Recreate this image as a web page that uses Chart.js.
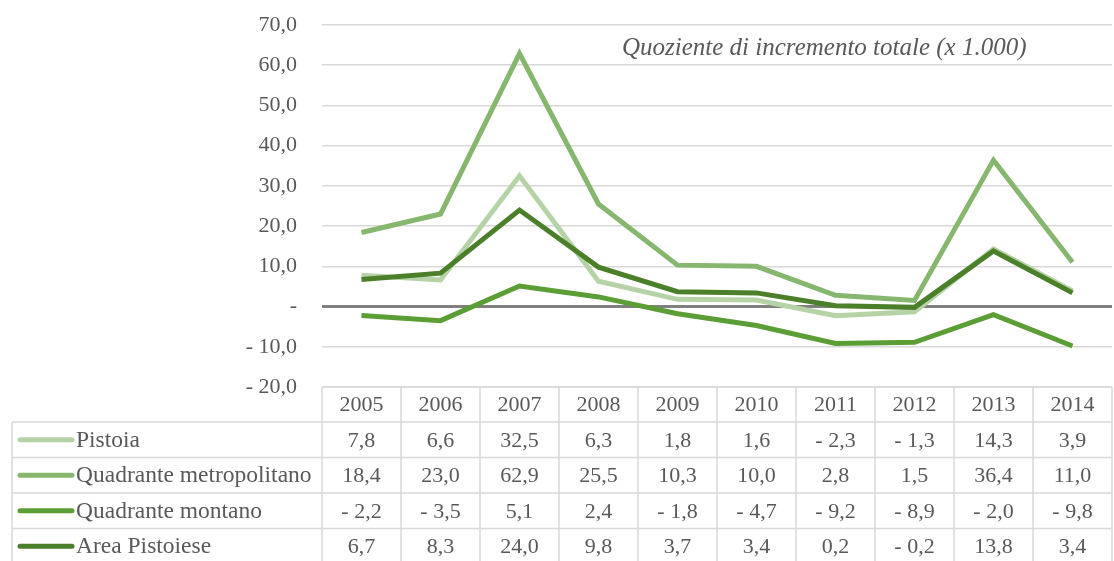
<!DOCTYPE html>
<html>
<head>
<meta charset="utf-8">
<script src="https://cdn.jsdelivr.net/npm/chart.js@4"></script>
<style>
  html, body { margin: 0; padding: 0; background: #fff; }
  canvas { display: block; }
</style>
</head>
<body>
<canvas id="chart" width="1114" height="561"></canvas>
<script>
// --- data ---
const years = ['2005', '2006', '2007', '2008', '2009', '2010', '2011', '2012', '2013', '2014'];
const seriesNames = ['Pistoia', 'Quadrante metropolitano', 'Quadrante montano', 'Area Pistoiese'];
const pistoia = [7.8, 6.6, 32.5, 6.3, 1.8, 1.6, -2.3, -1.3, 14.3, 3.9];
const quadranteMetropolitano = [18.4, 23.0, 62.9, 25.5, 10.3, 10.0, 2.8, 1.5, 36.4, 11.0];
const quadranteMontano = [-2.2, -3.5, 5.1, 2.4, -1.8, -4.7, -9.2, -8.9, -2.0, -9.8];
const areaPistoiese = [6.7, 8.3, 24.0, 9.8, 3.7, 3.4, 0.2, -0.2, 13.8, 3.4];
const yMin = -20, yMax = 70, yStep = 10;
const chartTitle = 'Quoziente di incremento totale (x 1.000)';

const seriesValues = [pistoia, quadranteMetropolitano, quadranteMontano, areaPistoiese];
const colors = ['#b5d3a7', '#87b76f', '#5c9e36', '#4b7f29'];
const textColor = '#595959';
const gridColor = '#d9d9d9';
const FONT = '"Liberation Serif", "DejaVu Serif", serif';

// Excel-style number: 12,3 / - 4,5 / "-" for zero
function fmt(v) {
  if (v === 0) return '-';
  const s = Math.abs(v).toFixed(1).replace('.', ',');
  return v < 0 ? '- ' + s : s;
}

// data table under the plot, with legend keys in the first column
const dataTable = {
  id: 'dataTable',
  afterDraw(chart) {
    const { ctx, chartArea: a, scales: { x } } = chart;
    const colW = (a.right - a.left) / years.length;
    const headerH = 35, rowH = 35.5;
    const tableLeft = 12;
    const top = a.bottom;
    const rowsTop = top + headerH;
    const bottom = rowsTop + rowH * seriesNames.length;

    ctx.save();
    ctx.strokeStyle = gridColor;
    ctx.lineWidth = 1.5;
    ctx.beginPath();
    // header row
    ctx.moveTo(a.left, top); ctx.lineTo(a.right, top);
    for (let i = 0; i <= years.length; i++) {
      const cx = a.left + i * colW;
      ctx.moveTo(cx, top); ctx.lineTo(cx, bottom);
    }
    // series rows
    for (let r = 0; r <= seriesNames.length; r++) {
      const ry = rowsTop + r * rowH;
      ctx.moveTo(tableLeft, ry); ctx.lineTo(a.right, ry);
    }
    ctx.moveTo(tableLeft, rowsTop); ctx.lineTo(tableLeft, bottom);
    ctx.stroke();

    ctx.fillStyle = textColor;
    ctx.font = '22px ' + FONT;
    ctx.textAlign = 'center';
    ctx.textBaseline = 'middle';
    years.forEach((y, i) => {
      ctx.fillText(y, x.getPixelForValue(i), top + headerH / 2 + 1);
    });
    seriesValues.forEach((vals, r) => {
      const cy = rowsTop + r * rowH + rowH / 2 + 1;
      ctx.font = '22px ' + FONT;
      ctx.textAlign = 'center';
      vals.forEach((v, i) => ctx.fillText(fmt(v), x.getPixelForValue(i), cy));
      // legend key
      ctx.strokeStyle = colors[r];
      ctx.lineWidth = 5;
      ctx.lineCap = 'round';
      ctx.beginPath();
      ctx.moveTo(20, cy - 1); ctx.lineTo(72, cy - 1);
      ctx.stroke();
      ctx.font = '23.5px ' + FONT;
      ctx.textAlign = 'left';
      ctx.fillText(seriesNames[r], 76, cy);
    });

    // title inside the plot
    ctx.font = 'italic 25px ' + FONT;
    ctx.textAlign = 'left';
    ctx.textBaseline = 'alphabetic';
    ctx.fillText(chartTitle, 622, 55);
    ctx.restore();
  }
};

new Chart(document.getElementById('chart'), {
  type: 'line',
  data: {
    labels: years,
    datasets: seriesNames.map((name, i) => ({
      label: name,
      data: seriesValues[i],
      borderColor: colors[i],
      backgroundColor: colors[i],
      borderWidth: 5,
      pointRadius: 0,
      tension: 0,
      order: seriesNames.length - i
    }))
  },
  options: {
    responsive: false,
    animation: false,
    layout: { padding: { top: 25, right: 2, bottom: 174, left: 0 } },
    plugins: { legend: { display: false }, tooltip: { enabled: false } },
    scales: {
      x: { display: false, offset: true },
      y: {
        min: yMin, max: yMax,
        afterFit: s => { s.width = 322; s.paddingTop = 0; s.paddingBottom = 0; },
        border: { display: false },
        grid: {
          drawTicks: false,
          color: c => c.tick && c.tick.value === 0 ? '#808080' : gridColor,
          lineWidth: c => c.tick && c.tick.value === 0 ? 3 : 1.5
        },
        ticks: {
          stepSize: yStep,
          padding: 25,
          color: textColor,
          font: { family: FONT, size: 22 },
          callback: v => fmt(v)
        }
      }
    }
  },
  plugins: [dataTable]
});
</script>
</body>
</html>
